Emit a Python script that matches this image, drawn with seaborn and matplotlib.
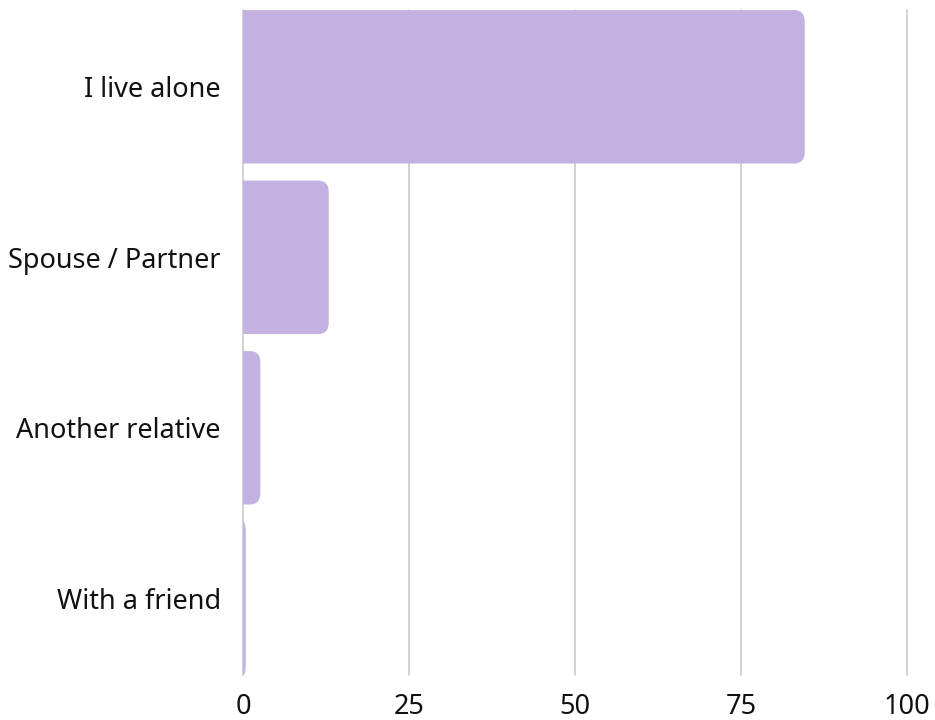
import numpy as np
import matplotlib
matplotlib.use("Agg")
import matplotlib.pyplot as plt
import seaborn as sns
import pandas as pd
from matplotlib.path import Path
from matplotlib.patches import PathPatch

categories = ["I live alone", "Spouse / Partner", "Another relative", "With a friend"]
values = [84.6, 12.9, 2.6, 0.4]
xticks = [0, 25, 50, 75, 100]

df = pd.DataFrame({"category": categories, "value": values})

sns.set_style("white")
plt.rcParams['font.family'] = ['Noto Sans', 'DejaVu Sans']

fig = plt.figure(figsize=(9.35, 7.2), dpi=100)
ax = fig.add_axes([0.26, 0.0625, 0.71, 0.9235])

sns.barplot(data=df, x="value", y="category", color="#C3B1E1", saturation=1,
            width=0.9, ax=ax, zorder=3)


def rounded_right(x0, y0, w, h, rx, ry):
    # bar path with only the right-hand corners rounded
    rx = min(rx, w)
    ry = min(ry, h / 2)
    verts = [(x0, y0), (x0 + w - rx, y0), (x0 + w, y0), (x0 + w, y0 + ry),
             (x0 + w, y0 + h - ry), (x0 + w, y0 + h), (x0 + w - rx, y0 + h),
             (x0, y0 + h), (x0, y0)]
    codes = [Path.MOVETO, Path.LINETO, Path.CURVE3, Path.CURVE3,
             Path.LINETO, Path.CURVE3, Path.CURVE3, Path.LINETO, Path.CLOSEPOLY]
    return Path(verts, codes)


for p in list(ax.patches):
    x0, y0 = p.get_x(), p.get_y()
    w, h = p.get_width(), p.get_height()
    fc = p.get_facecolor()
    p.remove()
    ax.add_patch(PathPatch(rounded_right(x0, y0, w, h, 1.6, 0.065),
                           facecolor=fc, edgecolor="none", zorder=3))

ax.set_xlim(0, 100)
ax.set_ylim(3.45, -0.45)
ax.set_xticks(xticks)
ax.set_xticklabels([str(t) for t in xticks])
ax.xaxis.grid(True, color="#cccccc", linewidth=1.2, zorder=0)
for gl in ax.get_xgridlines():
    gl.set_clip_on(False)
ax.yaxis.grid(False)
for s in ax.spines.values():
    s.set_visible(False)
ax.tick_params(axis="both", length=0, labelsize=19.5, colors="#111111")
ax.tick_params(axis="y", pad=16)
ax.tick_params(axis="x", pad=13)
ax.set_xlabel("")
ax.set_ylabel("")

fig.savefig("out.png", dpi=100)
